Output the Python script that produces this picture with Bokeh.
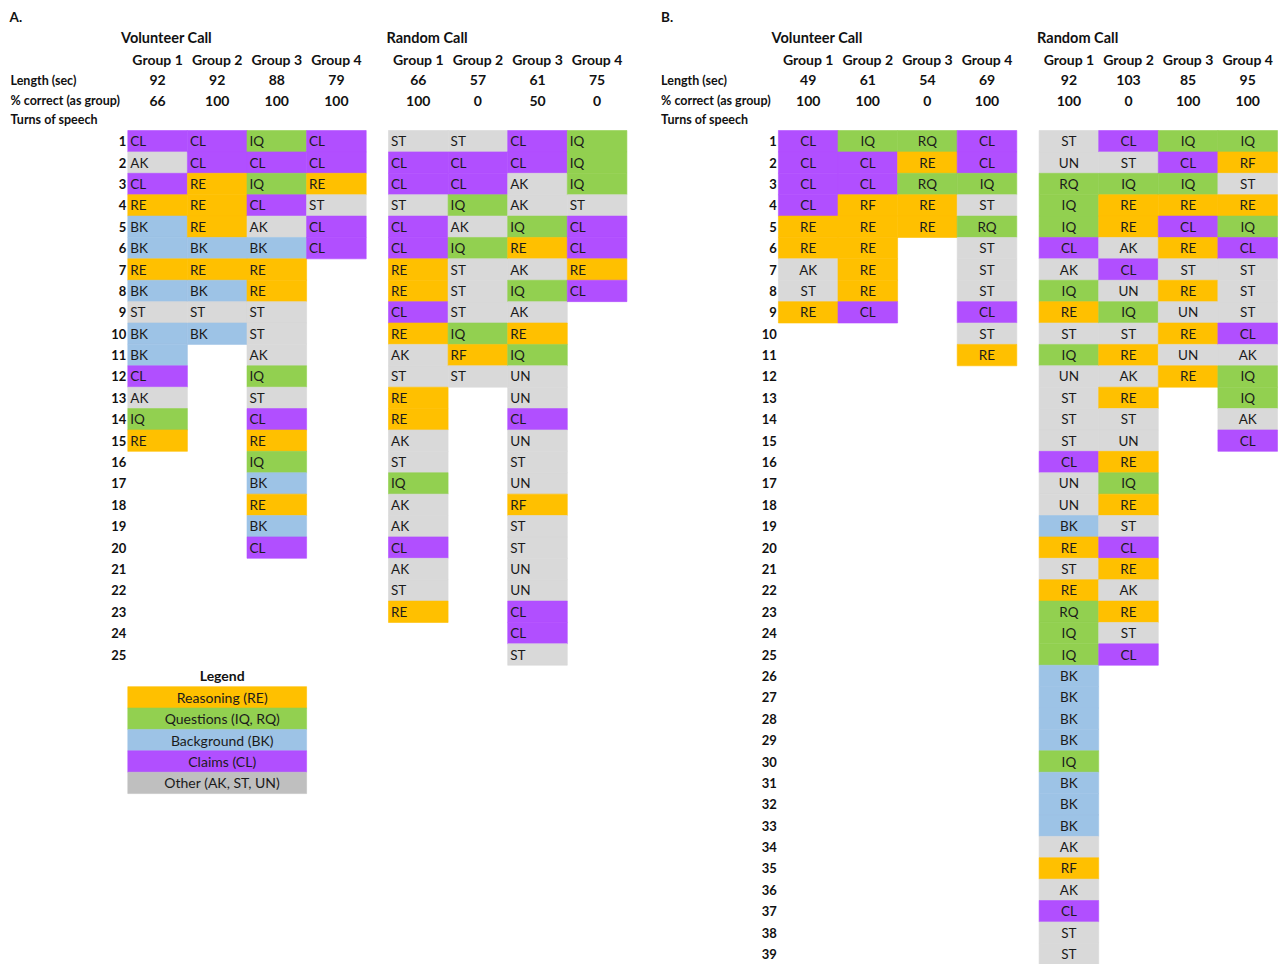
from bokeh.plotting import figure
from bokeh.models import ColumnDataSource, Range1d
from bokeh.core.properties import value
from bokeh.embed import file_html
from bokeh.resources import INLINE

# ---------------- data ----------------
panel_labels = ["A.", "B."]
condition_labels = ["Volunteer Call", "Random Call"]
group_labels = ["Group 1", "Group 2", "Group 3", "Group 4"]
row_header_labels = ["Length (sec)", "% correct (as group)", "Turns of speech"]

a_volunteer_length = [92, 92, 88, 79]
a_volunteer_correct = [66, 100, 100, 100]
a_random_length = [66, 57, 61, 75]
a_random_correct = [100, 0, 50, 0]
b_volunteer_length = [49, 61, 54, 69]
b_volunteer_correct = [100, 100, 0, 100]
b_random_length = [92, 103, 85, 95]
b_random_correct = [100, 0, 100, 100]

a_volunteer_g1 = ["CL", "AK", "CL", "RE", "BK", "BK", "RE", "BK", "ST", "BK", "BK", "CL", "AK", "IQ", "RE"]
a_volunteer_g2 = ["CL", "CL", "RE", "RE", "RE", "BK", "RE", "BK", "ST", "BK"]
a_volunteer_g3 = ["IQ", "CL", "IQ", "CL", "AK", "BK", "RE", "RE", "ST", "ST", "AK", "IQ", "ST", "CL", "RE",
                  "IQ", "BK", "RE", "BK", "CL"]
a_volunteer_g4 = ["CL", "CL", "RE", "ST", "CL", "CL"]
a_random_g1 = ["ST", "CL", "CL", "ST", "CL", "CL", "RE", "RE", "CL", "RE", "AK", "ST", "RE", "RE", "AK", "ST",
               "IQ", "AK", "AK", "CL", "AK", "ST", "RE"]
a_random_g2 = ["ST", "CL", "CL", "IQ", "AK", "IQ", "ST", "ST", "ST", "IQ", "RF", "ST"]
a_random_g3 = ["CL", "CL", "AK", "AK", "IQ", "RE", "AK", "IQ", "AK", "RE", "IQ", "UN", "UN", "CL", "UN", "ST",
               "UN", "RF", "ST", "ST", "UN", "UN", "CL", "CL", "ST"]
a_random_g4 = ["IQ", "IQ", "IQ", "ST", "CL", "CL", "RE", "CL"]

b_volunteer_g1 = ["CL", "CL", "CL", "CL", "RE", "RE", "AK", "ST", "RE"]
b_volunteer_g2 = ["IQ", "CL", "CL", "RF", "RE", "RE", "RE", "RE", "CL"]
b_volunteer_g3 = ["RQ", "RE", "RQ", "RE", "RE"]
b_volunteer_g4 = ["CL", "CL", "IQ", "ST", "RQ", "ST", "ST", "ST", "CL", "ST", "RE"]
b_random_g1 = ["ST", "UN", "RQ", "IQ", "IQ", "CL", "AK", "IQ", "RE", "ST", "IQ", "UN", "ST", "ST", "ST", "CL",
               "UN", "UN", "BK", "RE", "ST", "RE", "RQ", "IQ", "IQ", "BK", "BK", "BK", "BK", "IQ", "BK", "BK",
               "BK", "AK", "RF", "AK", "CL", "ST", "ST"]
b_random_g2 = ["CL", "ST", "IQ", "RE", "RE", "AK", "CL", "UN", "IQ", "ST", "RE", "AK", "RE", "ST", "UN", "RE",
               "IQ", "RE", "ST", "CL", "RE", "AK", "RE", "ST", "CL"]
b_random_g3 = ["IQ", "CL", "IQ", "RE", "CL", "RE", "ST", "RE", "UN", "RE", "UN", "RE"]
b_random_g4 = ["IQ", "RF", "ST", "RE", "IQ", "CL", "ST", "ST", "ST", "CL", "AK", "IQ", "IQ", "AK", "CL"]

a_turn_count = 25
b_turn_count = 39

legend_title = "Legend"
legend_labels = ["Reasoning (RE)", "Questions (IQ, RQ)", "Background (BK)", "Claims (CL)", "Other (AK, ST, UN)"]
legend_categories = ["Reasoning", "Questions", "Background", "Claims", "Other"]
code_category = {"RE": "Reasoning", "RF": "Reasoning", "IQ": "Questions", "RQ": "Questions",
                 "BK": "Background", "CL": "Claims", "AK": "Other", "ST": "Other", "UN": "Other"}

# ---------------- style / layout ----------------
cell_colors = {"Reasoning": "#FFC000", "Questions": "#92D050", "Background": "#9DC3E6",
               "Claims": "#B14FFF", "Other": "#D9D9D9"}
legend_colors = {"Reasoning": "#FFC000", "Questions": "#92D050", "Background": "#9DC3E6",
                 "Claims": "#B14FFF", "Other": "#BFBFBF"}
FONT = "Lato"
TXT = "#1b1b1b"

panel_dx = [0.0, 650.6]
block_left = [127.3, 388.0]
title_left = [120.5, 386.0]
col_w = 59.6
label_left = 10.0

y_panel, y_title, y_group, y_len, y_corr, y_turns = -4.80, -3.83, -2.81, -1.86, -0.90, -0.01

W, H = 1280, 964
ROW1, ROWH = 140.7, 21.39
p = figure(width=W, height=H, output_backend="svg", toolbar_location=None,
           x_range=Range1d(0, W),
           y_range=Range1d(1 + (H - ROW1) / ROWH, 1 - ROW1 / ROWH),
           min_border=0, outline_line_color=None, background_fill_color="white")
p.axis.visible = False
p.grid.visible = False

panels = [
    dict(label=panel_labels[0], center=False, turns=a_turn_count,
         lengths=[a_volunteer_length, a_random_length], correct=[a_volunteer_correct, a_random_correct],
         seqs=[[a_volunteer_g1, a_volunteer_g2, a_volunteer_g3, a_volunteer_g4],
               [a_random_g1, a_random_g2, a_random_g3, a_random_g4]]),
    dict(label=panel_labels[1], center=True, turns=b_turn_count,
         lengths=[b_volunteer_length, b_random_length], correct=[b_volunteer_correct, b_random_correct],
         seqs=[[b_volunteer_g1, b_volunteer_g2, b_volunteer_g3, b_volunteer_g4],
               [b_random_g1, b_random_g2, b_random_g3, b_random_g4]]),
]

cells = dict(left=[], right=[], top=[], bottom=[], color=[])
ctext_l = dict(x=[], y=[], t=[])
ctext_c = dict(x=[], y=[], t=[])
bold_l = dict(x=[], y=[], t=[], size=[])
bold_c = dict(x=[], y=[], t=[], size=[])
bold_r = dict(x=[], y=[], t=[])

for pi, pan in enumerate(panels):
    dx = panel_dx[pi]
    bold_l["x"].append(label_left + dx - (1 if pi == 0 else 0)); bold_l["y"].append(y_panel)
    bold_l["t"].append(pan["label"]); bold_l["size"].append("13.5px")
    for hi, (lab, yy) in enumerate(zip(row_header_labels, [y_len, y_corr, y_turns])):
        bold_l["x"].append(label_left + dx); bold_l["y"].append(yy)
        bold_l["t"].append(lab); bold_l["size"].append("12.5px")
    for r in range(1, pan["turns"] + 1):
        bold_r["x"].append(block_left[0] + dx - 1.5); bold_r["y"].append(r); bold_r["t"].append(str(r))
    for ci in range(2):
        bl = block_left[ci] + dx
        bold_l["x"].append(title_left[ci] + dx); bold_l["y"].append(y_title)
        bold_l["t"].append(condition_labels[ci]); bold_l["size"].append("14.5px")
        for gi in range(4):
            left = bl + gi * col_w
            cx = left + col_w / 2
            bold_c["x"] += [cx, cx, cx]
            bold_c["y"] += [y_group, y_len, y_corr]
            bold_c["t"] += [group_labels[gi], str(pan["lengths"][ci][gi]), str(pan["correct"][ci][gi])]
            bold_c["size"] += ["14px", "14px", "14px"]
            for ri, code in enumerate(pan["seqs"][ci][gi]):
                r = ri + 1
                cells["left"].append(left); cells["right"].append(left + col_w)
                cells["top"].append(r - 0.5); cells["bottom"].append(r + 0.5)
                cells["color"].append(cell_colors[code_category[code]])
                if pan["center"]:
                    ctext_c["x"].append(cx); ctext_c["y"].append(r); ctext_c["t"].append(code)
                else:
                    ctext_l["x"].append(left + 2.5); ctext_l["y"].append(r); ctext_l["t"].append(code)

# legend (panel A, below the turn rows)
leg = dict(left=[], right=[], top=[], bottom=[], color=[])
leg_txt = dict(x=[], y=[], t=[])
leg_left = block_left[0]
leg_right = block_left[0] + 3 * col_w
leg_cx = (leg_left + leg_right) / 2 + 5
leg_row0 = a_turn_count + 1
bold_c["x"].append(leg_cx); bold_c["y"].append(leg_row0); bold_c["t"].append(legend_title); bold_c["size"].append("14px")
for i, (lab, cat) in enumerate(zip(legend_labels, legend_categories)):
    r = leg_row0 + 1 + i
    leg["left"].append(leg_left); leg["right"].append(leg_right)
    leg["top"].append(r - 0.5); leg["bottom"].append(r + 0.5)
    leg["color"].append(legend_colors[cat])
    leg_txt["x"].append(leg_cx); leg_txt["y"].append(r); leg_txt["t"].append(lab)

p.quad(left="left", right="right", top="top", bottom="bottom", fill_color="color", line_color="color",
       line_width=0.6, source=ColumnDataSource(cells))
p.quad(left="left", right="right", top="top", bottom="bottom", fill_color="color", line_color="color",
       line_width=0.6, source=ColumnDataSource(leg))

p.text(x="x", y="y", text="t", source=ColumnDataSource(ctext_l), text_font=value(FONT),
       text_font_size="13.5px", text_align="left", text_baseline="middle", text_color=TXT)
p.text(x="x", y="y", text="t", source=ColumnDataSource(ctext_c), text_font=value(FONT),
       text_font_size="13.5px", text_align="center", text_baseline="middle", text_color=TXT)
p.text(x="x", y="y", text="t", source=ColumnDataSource(leg_txt), text_font=value(FONT),
       text_font_size="14px", text_align="center", text_baseline="middle", text_color=TXT)
p.text(x="x", y="y", text="t", source=ColumnDataSource(bold_l), text_font=value(FONT),
       text_font_size="size", text_font_style="bold", text_align="left", text_baseline="middle",
       text_color="#111111")
p.text(x="x", y="y", text="t", source=ColumnDataSource(bold_c), text_font=value(FONT),
       text_font_size="size", text_font_style="bold", text_align="center", text_baseline="middle",
       text_color="#111111")
p.text(x="x", y="y", text="t", source=ColumnDataSource(bold_r), text_font=value(FONT),
       text_font_size="13px", text_font_style="bold", text_align="right", text_baseline="middle",
       text_color="#111111")

open("out.html", "w").write(file_html(p, INLINE))
